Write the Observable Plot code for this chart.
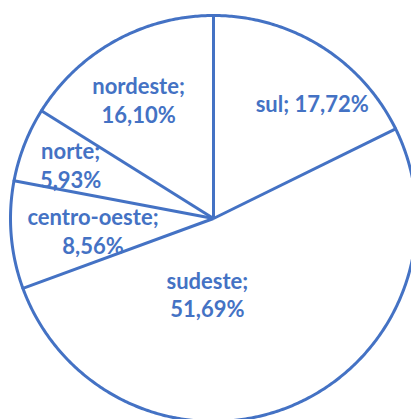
<!DOCTYPE html>
<html>
<head>
<meta charset="utf-8">
<script src="https://cdn.jsdelivr.net/npm/d3@7"></script>
<script src="https://cdn.jsdelivr.net/npm/@observablehq/plot@0.6"></script>
<style>
  html, body { margin: 0; padding: 0; background: #ffffff; }
  #chart svg { display: block; }
</style>
</head>
<body>
<div id="chart"></div>
<script>
// ---- data ----
const regions = ["sul", "sudeste", "centro-oeste", "norte", "nordeste"];
const shares = [17.72, 51.69, 8.56, 5.93, 16.10];
const shareLabels = ["17,72%", "51,69%", "8,56%", "5,93%", "16,10%"];

// ---- layout / style ----
const W = 411, H = 419;
const CX = 213, CY = 218, R = 203;       // pixel centre and radius of the pie
const blue = "#4472C4";
const fontSize = 22;
const lineHeight = 1.3;
// label placement (Excel "best fit"): radial fraction plus pixel nudges
const labelR = 0.65;
const nudges = [[29, -4], [-58, -46], [11, 1], [-20, -6], [-11, -4]];
const twoLine = [false, true, true, true, true];

// ---- geometry from the data ----
const arcs = d3.pie().sort(null).value(d => d)(shares);
const arcPts = [];
arcs.forEach((a, i) => {
  const n = Math.max(8, Math.ceil((a.endAngle - a.startAngle) / 0.01));
  for (let k = 0; k <= n; k++) {
    const t = a.startAngle + (a.endAngle - a.startAngle) * k / n;
    arcPts.push({region: regions[i], x: Math.sin(t), y: Math.cos(t)});
  }
});
const spokes = arcs.map((a, i) => ({region: regions[i], x2: Math.sin(a.startAngle), y2: Math.cos(a.startAngle)}));
const labelData = arcs.map((a, i) => {
  const m = (a.startAngle + a.endAngle) / 2;
  return {
    region: regions[i],
    x: labelR * Math.sin(m),
    y: labelR * Math.cos(m),
    text: regions[i] + ";" + (twoLine[i] ? "\n" : " ") + shareLabels[i]
  };
});

const xDomain = [-CX / R, (W - CX) / R];
const yDomain = [(CY - H) / R, CY / R];

const chart = Plot.plot({
  width: W,
  height: H,
  margin: 0,
  x: {domain: xDomain, range: [0, W], axis: null},
  y: {domain: yDomain, range: [H, 0], axis: null},
  style: {background: "#ffffff", fontFamily: "Lato, 'Open Sans', sans-serif"},
  marks: [
    Plot.line(arcPts, {x: "x", y: "y", z: "region", stroke: blue, strokeWidth: 3, clip: true}),
    Plot.link(spokes, {x1: () => 0, y1: () => 0, x2: "x2", y2: "y2", stroke: blue, strokeWidth: 3, clip: true}),
    ...labelData.map((d, i) => Plot.text([d], {
      x: "x", y: "y", text: "text",
      dx: nudges[i][0], dy: nudges[i][1],
      fill: blue, fontSize: fontSize, fontWeight: "bold",
      lineHeight: lineHeight, textAnchor: "middle"
    }))
  ]
});
document.getElementById("chart").appendChild(chart);
</script>
</body>
</html>
